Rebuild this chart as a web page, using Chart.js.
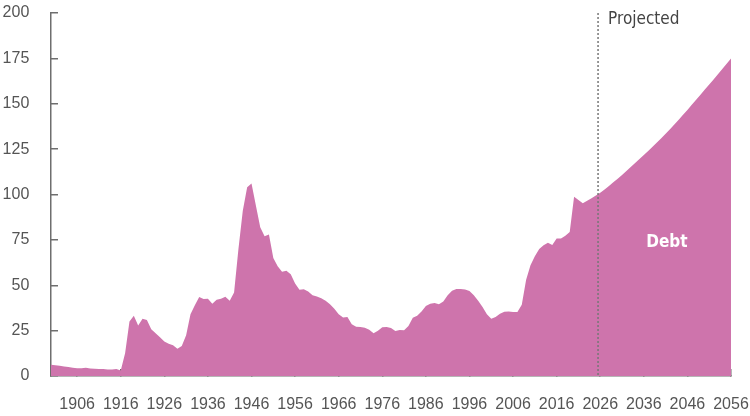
<!DOCTYPE html>
<html>
<head>
<meta charset="utf-8">
<script src="https://cdn.jsdelivr.net/npm/chart.js@4"></script>
<style>
  html, body { margin: 0; padding: 0; background: #fff; }
</style>
</head>
<body>
<canvas id="chart" width="750" height="416"></canvas>
<script>
// debt held by the public, percent of GDP
const firstYear = 1900;
const lastYear = 2056;

const debtActual = [
    6.2, 5.9, 5.6, 5.3, 5.0, 4.6, 4.3, 4.3, 4.5, 4.2,        // 1900s
    4.0, 3.9, 3.8, 3.6, 3.6, 3.8, 3.0, 12.5, 30.0, 33.2,     // 1910s
    27.8, 31.5, 30.8, 25.8, 23.5, 21.3, 19.0, 17.8, 17.0, 15.0, // 1920s
    16.5, 22.5, 34.0, 39.0, 43.5, 42.4, 42.5, 39.8, 42.0, 42.5, // 1930s
    43.6, 41.5, 46.0, 70.0, 91.0, 104.0, 106.0, 94.0, 82.0, 77.0, // 1940s
    78.0, 65.0, 60.5, 57.5, 58.0, 56.0, 51.0, 47.5, 47.8, 46.5, // 1950s
    44.5, 43.8, 42.8, 41.5, 39.5, 37.0, 34.0, 32.3, 32.5, 28.5, // 1960s
    27.2, 27.0, 26.6, 25.5, 23.5, 25.0, 26.8, 27.0, 26.5, 24.8, // 1970s
    25.3, 25.2, 27.6, 32.1, 33.2, 35.5, 38.5, 39.8, 40.2, 39.6, // 1980s
    41.0, 44.5, 47.0, 48.0, 48.0, 47.7, 46.8, 44.5, 41.5, 38.0, // 1990s
    34.0, 31.5, 32.5, 34.3, 35.4, 35.6, 35.3, 35.2, 39.3, 53.0, // 2000s
    61.0, 66.0, 70.0, 72.0, 73.4, 72.2, 75.8, 75.7, 77.3, 79.3, // 2010s
    98.8, 97.0, 95.2, 96.5, 98.0, 99.5                          // 2020-2025
];

const debtProjected = [
    101.0, 102.8, 104.7, 106.7, 108.7, 110.8, 113.0, 115.2, 117.4, 119.6, // 2026-2035
    121.8, 124.0, 126.3, 128.6, 131.0, 133.5, 136.0, 138.6, 141.2, 143.9, // 2036-2045
    146.6, 149.4, 152.2, 155.0, 157.8, 160.6, 163.4, 166.2, 169.1, 172.0, // 2046-2055
    175.0                                                                 // 2056
];

const xTickYears = [1906, 1916, 1926, 1936, 1946, 1956, 1966, 1976, 1986, 1996, 2006, 2016, 2026, 2036, 2046, 2056];
const yTicks = [0, 25, 50, 75, 100, 125, 150, 175, 200];
const projectedFrom = 2025.5;

const debt = debtActual.concat(debtProjected);
const points = debt.map((v, i) => ({ x: firstYear + i, y: v }));

const axisColor = '#6e6e6e';
const tickFont = { family: '"Liberation Sans", Arial, sans-serif', size: 16 };

const projectionPlugin = {
    id: 'projection',
    afterDatasetsDraw(chart) {
        const { ctx, chartArea, scales: { x, y } } = chart;
        const px = x.getPixelForValue(projectedFrom);

        ctx.save();
        ctx.strokeStyle = '#777';
        ctx.lineWidth = 1.5;
        ctx.setLineDash([2, 2]);
        ctx.beginPath();
        ctx.moveTo(px, chartArea.top);
        ctx.lineTo(px, chartArea.bottom);
        ctx.stroke();
        ctx.setLineDash([]);

        ctx.fillStyle = '#444';
        ctx.font = '17px "Liberation Sans Narrow", "DejaVu Sans Condensed", sans-serif';
        ctx.textAlign = 'left';
        ctx.textBaseline = 'middle';
        ctx.fillText('Projected', px + 10, chartArea.top + 7);

        // series label sits inside the area
        ctx.fillStyle = '#fff';
        ctx.font = 'bold 17px "Liberation Sans Narrow", "DejaVu Sans Condensed", sans-serif';
        ctx.textAlign = 'center';
        ctx.fillText('Debt', x.getPixelForValue(2041.3), y.getPixelForValue(73.6));
        ctx.restore();
    }
};

new Chart(document.getElementById('chart'), {
    type: 'line',
    data: {
        datasets: [{
            label: 'Debt',
            data: points,
            backgroundColor: '#ce74ac',
            borderWidth: 0,
            pointRadius: 0,
            tension: 0,
            fill: 'origin'
        }]
    },
    options: {
        responsive: false,
        animation: false,
        layout: { padding: { top: 13, right: 19, left: 0, bottom: 0 } },
        plugins: {
            legend: { display: false },
            tooltip: { enabled: false }
        },
        scales: {
            x: {
                type: 'linear',
                min: firstYear,
                max: lastYear,
                afterBuildTicks: (scale) => {
                    scale.ticks = xTickYears.map(v => ({ value: v }));
                },
                afterFit: (scale) => {
                    scale.height = 40;
                    scale.paddingLeft = 0;
                    scale.paddingRight = 0;
                },
                ticks: {
                    callback: (v) => String(v),
                    autoSkip: false,
                    maxRotation: 0,
                    padding: 26,
                    color: '#555',
                    font: tickFont
                },
                grid: { drawOnChartArea: false, tickLength: -7, color: axisColor, lineWidth: 1.5 },
                border: { color: axisColor, width: 1.5 }
            },
            y: {
                min: 0,
                max: 200,
                afterBuildTicks: (scale) => {
                    scale.ticks = yTicks.map(v => ({ value: v }));
                },
                afterFit: (scale) => {
                    scale.width = 51;
                    scale.paddingTop = 0;
                    scale.paddingBottom = 0;
                },
                ticks: {
                    padding: 28.7,
                    color: '#555',
                    font: tickFont
                },
                grid: { drawOnChartArea: false, tickLength: -7, color: axisColor, lineWidth: 1.5 },
                border: { color: axisColor, width: 1.5 }
            }
        }
    },
    plugins: [projectionPlugin]
});
</script>
</body>
</html>
